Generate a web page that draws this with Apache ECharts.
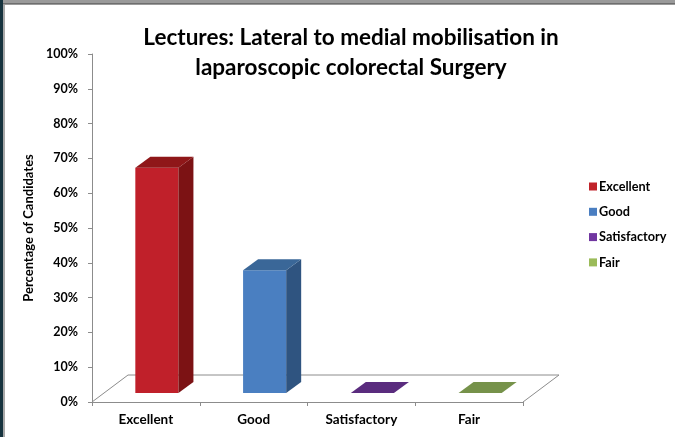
<!DOCTYPE html>
<html><head><meta charset="utf-8">
<script src="https://cdn.jsdelivr.net/npm/echarts@6/dist/echarts.min.js"></script>
<style>html,body{margin:0;padding:0;background:#fff}#c{width:675px;height:437px}</style>
</head><body><div id="c"></div>
<script>
var categories = ['Excellent', 'Good', 'Satisfactory', 'Fair'];
var seriesNames = ['Excellent', 'Good', 'Satisfactory', 'Fair'];
var values = [64.7, 35.3, 0, 0];
var yTicks = [0, 10, 20, 30, 40, 50, 60, 70, 80, 90, 100];
var frontColors = ['#C0202A', '#4A7FC1', '#6A3494', '#8AAA4E'];
var sideColors = ['#7C1214', '#2F5480', '#4A2268', '#5F7A33'];
var topColors = ['#8F1719', '#3A6798', '#5A2C7E', '#76924A'];
var legendColors = ['#C0232A', '#4A7EC1', '#7036A0', '#9BBB59'];

var FONT = 'Lato';
var DX = 15, DY = -11;      // bar depth
var FDX = 36, FDY = -27;    // floor depth
var MIDX = 11, MIDY = -9;   // bars sit in the middle of the floor depth

function barRenderer(si) {
  return function (params, api) {
    var c = api.value(0), v = api.value(1);
    var base = api.coord([c, 0]);
    var top = api.coord([c, v]);
    var bw = api.size([1, 0])[0];
    var w = bw * 0.4;
    var x0 = base[0] - w / 2 + MIDX, x1 = x0 + w;
    var yb = base[1] + MIDY, yt = top[1] + MIDY;
    var children = [];
    if (yb - yt > 0.5) {
      children.push({type: 'polygon', shape: {points: [[x0, yb], [x1, yb], [x1, yt], [x0, yt]]}, style: {fill: frontColors[si]}});
      children.push({type: 'polygon', shape: {points: [[x1, yb], [x1 + DX, yb + DY], [x1 + DX, yt + DY], [x1, yt]]}, style: {fill: sideColors[si]}});
    }
    children.push({type: 'polygon', shape: {points: [[x0, yt], [x1, yt], [x1 + DX, yt + DY], [x0 + DX, yt + DY]]}, style: {fill: topColors[si]}});
    return {type: 'group', children: children};
  };
}

function floorRenderer(params, api) {
  var p0 = api.coord([0, 0]);
  var bw = api.size([1, 0])[0];
  var xl = p0[0] - bw / 2;
  var xr = xl + bw * categories.length;
  var y = p0[1];
  return {
    type: 'polyline',
    shape: {points: [[xl, y], [xl + FDX, y + FDY], [xr + FDX, y + FDY], [xr, y]]},
    style: {stroke: '#8c8c8c', lineWidth: 1, fill: null}
  };
}

var series = [{
  type: 'custom', name: '_floor', renderItem: floorRenderer, data: [[0, 0]], silent: true, z: 1,
  legendHoverLink: false
}];
seriesNames.forEach(function (n, i) {
  series.push({
    type: 'custom', name: n, renderItem: barRenderer(i), data: [[i, values[i]]],
    itemStyle: {color: legendColors[i]}, z: 2
  });
});

var chart = echarts.init(document.getElementById('c'), null, {renderer: 'canvas'});
chart.setOption({
  animation: false,
  backgroundColor: '#fff',
  title: {
    text: 'Lectures: Lateral to medial mobilisation in\nlaparoscopic colorectal Surgery',
    left: 346, top: 18, textAlign: 'center',
    textStyle: {fontFamily: FONT, fontWeight: 'bold', fontSize: 22.5, lineHeight: 30, color: '#000'}
  },
  legend: {
    data: seriesNames, orient: 'vertical', left: 584, top: 175, itemGap: 12.3,
    itemWidth: 8, itemHeight: 8, icon: 'rect',
    textStyle: {fontFamily: FONT, fontWeight: 'bold', fontSize: 12.7, color: '#000', padding: [0, 0, 0, -3]}
  },
  grid: {left: 92, right: 152, top: 54, bottom: 35, containLabel: false},
  xAxis: {
    type: 'category', data: categories, boundaryGap: true,
    axisLine: {lineStyle: {color: '#8c8c8c'}},
    axisTick: {show: true, length: 4, alignWithLabel: false, interval: 0, lineStyle: {color: '#8c8c8c'}},
    axisLabel: {fontFamily: FONT, fontWeight: 'bold', fontSize: 13.5, color: '#000', margin: 11, interval: 0},
    splitLine: {show: false}
  },
  yAxis: {
    type: 'value', min: yTicks[0], max: yTicks[yTicks.length - 1], interval: 10,
    name: 'Percentage of Candidates', nameLocation: 'middle', nameGap: 50, nameRotate: 90,
    nameTextStyle: {fontFamily: FONT, fontWeight: 'bold', fontSize: 13, color: '#000'},
    axisLine: {show: true, lineStyle: {color: '#8c8c8c'}},
    axisTick: {show: true, length: 4, lineStyle: {color: '#8c8c8c'}},
    axisLabel: {fontFamily: FONT, fontWeight: 'bold', fontSize: 12.5, color: '#000', margin: 14, formatter: '{value}%'},
    splitLine: {show: false}
  },
  graphic: [
    {type: 'rect', left: 0, top: 0, shape: {width: 675, height: 5}, style: {fill: '#9a9a9a'}, z: 100},
    {type: 'rect', left: 0, top: 3, shape: {width: 675, height: 1}, style: {fill: '#6e6e6e'}, z: 100},
    {type: 'rect', left: 0, top: 0, shape: {width: 3, height: 437}, style: {fill: '#16333e'}, z: 101},
    {type: 'rect', left: 3, top: 5, shape: {width: 2, height: 432}, style: {fill: '#a8a8a8'}, z: 101}
  ],
  series: series
});
</script>
</body></html>
